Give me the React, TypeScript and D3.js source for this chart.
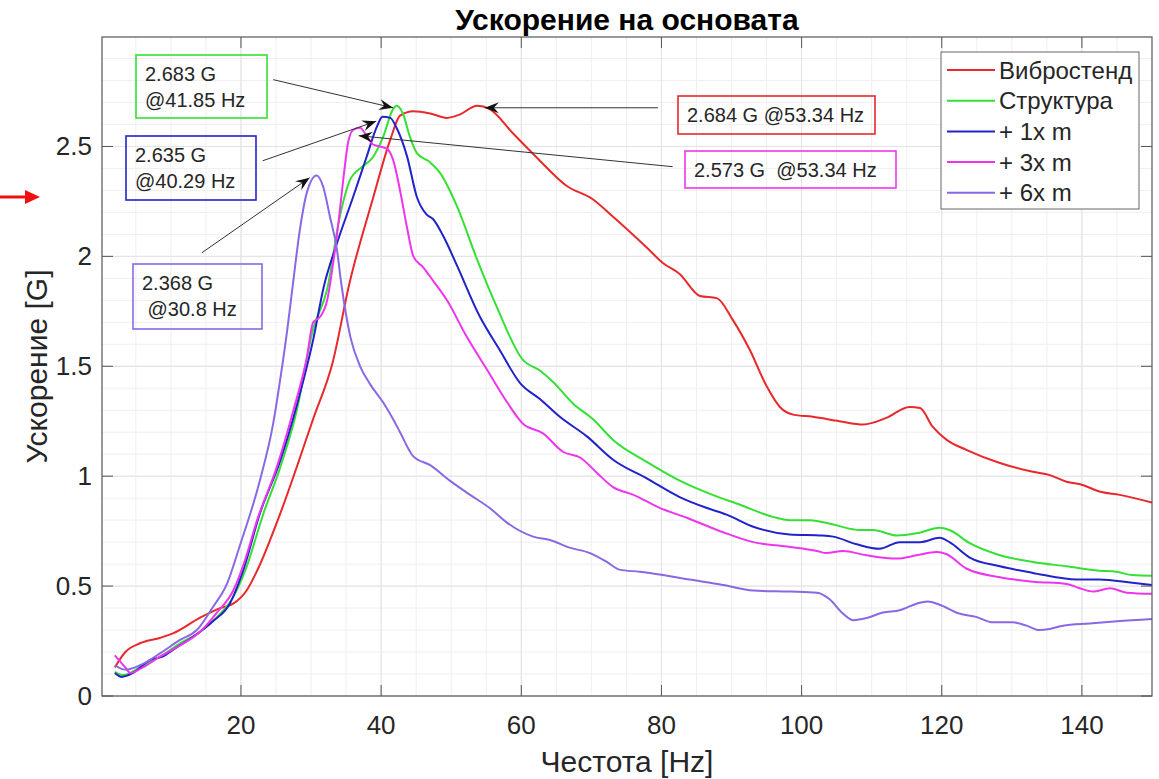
import React from "react";
import * as d3 from "d3";

// series data: [frequency Hz, acceleration G]
const vibrostend: [number, number][] = [
  [2.0, 0.13], [3.5, 0.2], [5.6, 0.24], [8.5, 0.265], [10.3, 0.285], [14.1, 0.355], [17.0, 0.4],
  [18.9, 0.42], [20.8, 0.48], [22.3, 0.57], [25.6, 0.83], [30.3, 1.26], [33.1, 1.52], [35.5, 1.88],
  [38.8, 2.26], [41.3, 2.53], [42.7, 2.64], [44.6, 2.66], [47.0, 2.65], [49.4, 2.63], [51.2, 2.645],
  [53.7, 2.685], [55.5, 2.67], [58.8, 2.56], [62.2, 2.45], [66.5, 2.32], [70.2, 2.26], [73.1, 2.18],
  [77.9, 2.04], [80.2, 1.97], [82.6, 1.92], [85.5, 1.82], [87.9, 1.81], [90.2, 1.71], [92.6, 1.575],
  [95.0, 1.41], [96.9, 1.315], [98.8, 1.28], [101.6, 1.27], [105.4, 1.25], [108.8, 1.235],
  [112.1, 1.265], [115.4, 1.315], [116.9, 1.31], [118.7, 1.225], [120.7, 1.165], [123.5, 1.12],
  [128.3, 1.06], [133.0, 1.02], [135.4, 1.005], [137.8, 0.975], [140.1, 0.96], [142.5, 0.93],
  [145.4, 0.915], [150, 0.88],
];

const struktura: [number, number][] = [
  [2.0, 0.11], [3.2, 0.095], [5.6, 0.13], [8.5, 0.18], [11.3, 0.24], [14.1, 0.29], [16.6, 0.36],
  [18.9, 0.45], [20.6, 0.57], [23.2, 0.83], [25.6, 1.04], [27.9, 1.29], [30.3, 1.67], [32.3, 1.85],
  [34.1, 2.18], [35.6, 2.35], [37.4, 2.41], [38.8, 2.45], [40.3, 2.545], [41.7, 2.67], [42.2, 2.685],
  [43.1, 2.65], [44.1, 2.545], [45.1, 2.47], [46.9, 2.43], [48.4, 2.38], [50.8, 2.23], [53.7, 1.985],
  [56.5, 1.77], [60.2, 1.53], [62.7, 1.48], [64.5, 1.43], [67.4, 1.33], [70.2, 1.26], [73.1, 1.165],
  [77.9, 1.065], [82.6, 0.98], [87.3, 0.915], [91.2, 0.87], [95.9, 0.815], [98.3, 0.8], [101.2, 0.8],
  [104.5, 0.78], [108.3, 0.755], [110.2, 0.755], [113.6, 0.73], [116.4, 0.74], [119.7, 0.765],
  [121.1, 0.755], [124.0, 0.695], [128.3, 0.64], [133.0, 0.61], [137.8, 0.59], [142.5, 0.57],
  [144.9, 0.565], [147.2, 0.55], [150, 0.547],
];

const plus1m: [number, number][] = [
  [2.0, 0.105], [3.0, 0.087], [4.6, 0.105], [7.0, 0.163], [8.9, 0.18], [10.3, 0.21], [13.2, 0.27],
  [16.0, 0.34], [18.4, 0.42], [20.3, 0.57], [22.7, 0.83], [25.6, 1.07], [27.9, 1.315], [30.3, 1.62],
  [31.8, 1.86], [33.7, 2.06], [36.0, 2.27], [37.9, 2.45], [39.4, 2.59], [40.2, 2.635], [41.3, 2.63],
  [42.2, 2.585], [43.7, 2.455], [45.1, 2.27], [46.5, 2.19], [47.4, 2.17], [48.9, 2.09], [50.8, 1.96],
  [54.1, 1.725], [56.9, 1.575], [59.8, 1.425], [62.7, 1.35], [65.5, 1.27], [69.4, 1.18], [73.1, 1.075],
  [77.9, 0.99], [82.6, 0.905], [86.5, 0.855], [89.3, 0.825], [93.1, 0.77], [98.3, 0.735], [103.0, 0.73],
  [104.5, 0.725], [107.9, 0.69], [111.1, 0.67], [114.0, 0.7], [116.9, 0.7], [119.7, 0.72], [121.1, 0.7],
  [124.0, 0.63], [128.3, 0.59], [133.0, 0.56], [139.3, 0.53], [142.5, 0.53], [147.2, 0.515], [150, 0.505],
];

const plus3m: [number, number][] = [
  [2.0, 0.185], [3.5, 0.13], [4.2, 0.105], [6.0, 0.13], [8.5, 0.18], [11.3, 0.23], [14.1, 0.29],
  [16.6, 0.38], [18.9, 0.48], [20.6, 0.62], [22.3, 0.8], [25.1, 1.04], [27.4, 1.29], [29.4, 1.54],
  [30.3, 1.7], [31.3, 1.725], [32.3, 1.8], [33.2, 1.98], [33.9, 2.15], [34.6, 2.35], [35.3, 2.52],
  [36.0, 2.575], [37.0, 2.585], [37.7, 2.56], [38.8, 2.51], [39.8, 2.5], [40.8, 2.49], [41.7, 2.44],
  [42.7, 2.3], [43.7, 2.13], [44.6, 2.0], [46.0, 1.95], [47.4, 1.89], [49.4, 1.8], [52.2, 1.635],
  [55.1, 1.485], [58.0, 1.335], [60.2, 1.24], [63.1, 1.195], [66.0, 1.11], [68.4, 1.085], [70.8, 1.015],
  [73.1, 0.95], [76.0, 0.915], [79.8, 0.855], [83.7, 0.81], [88.8, 0.745], [93.1, 0.7], [97.9, 0.68],
  [102.2, 0.66], [103.5, 0.65], [105.9, 0.66], [109.3, 0.64], [113.6, 0.625], [116.4, 0.64],
  [119.3, 0.655], [120.7, 0.645], [123.5, 0.58], [128.3, 0.54], [133.0, 0.52], [137.8, 0.51],
  [139.7, 0.49], [141.6, 0.475], [144.0, 0.49], [146.4, 0.47], [150, 0.465],
];

const plus6m: [number, number][] = [
  [2.0, 0.14], [3.5, 0.12], [5.6, 0.14], [8.5, 0.195], [11.3, 0.255], [13.7, 0.3], [16.0, 0.405],
  [18.0, 0.51], [19.8, 0.68], [22.7, 0.98], [24.6, 1.24], [25.6, 1.44], [26.6, 1.665], [27.4, 1.87],
  [28.4, 2.12], [29.4, 2.29], [30.8, 2.368], [31.7, 2.32], [32.7, 2.18], [33.7, 2.03], [34.3, 1.88],
  [35.6, 1.635], [37.0, 1.5], [38.4, 1.42], [40.3, 1.335], [41.7, 1.26], [42.7, 1.2], [44.6, 1.09],
  [47.0, 1.05], [49.8, 0.98], [52.7, 0.915], [55.5, 0.855], [57.9, 0.79], [61.7, 0.725], [64.1, 0.71],
  [66.9, 0.675], [69.8, 0.65], [72.2, 0.61], [74.0, 0.575], [76.9, 0.565], [80.2, 0.55], [84.0, 0.53],
  [88.8, 0.505], [93.1, 0.48], [98.3, 0.475], [102.2, 0.47], [104.0, 0.44], [105.9, 0.375],
  [107.4, 0.345], [109.3, 0.355], [111.6, 0.38], [114.0, 0.39], [116.4, 0.42], [118.0, 0.43],
  [119.7, 0.415], [122.5, 0.375], [124.9, 0.36], [127.3, 0.335], [130.1, 0.335], [132.1, 0.32],
  [133.9, 0.3], [135.4, 0.305], [137.3, 0.32], [141.1, 0.33], [145.0, 0.34], [150, 0.35],
];

const seriesNames = ["Вибростенд", "Структура", "+ 1x m", "+ 3x m", "+ 6x m"];
const seriesColors = ["#e8282c", "#35e035", "#2222cc", "#ee35ee", "#8a68e4"];
const seriesData = [vibrostend, struktura, plus1m, plus3m, plus6m];

const xTicks = [20, 40, 60, 80, 100, 120, 140];
const yTicks = [0, 0.5, 1, 1.5, 2, 2.5];
const yTickLabels = ["0", "0.5", "1", "1.5", "2", "2.5"];

// peak annotations: text lines, arrow tail and tip in data units
const annotations = [
  { lines: ["2.683 G", "@41.85 Hz"], color: 1, tail: [24.6, 2.804], tip: [41.7, 2.676], box: [136, 55, 131, 63] },
  { lines: ["2.635 G", "@40.29 Hz"], color: 2, tail: [23.1, 2.435], tip: [39.3, 2.615], box: [126, 136, 130, 64] },
  { lines: ["2.368 G", " @30.8 Hz"], color: 4, tail: [14.4, 2.016], tip: [29.8, 2.358], box: [133, 264, 129, 65] },
  { lines: ["2.684 G @53.34 Hz"], color: 0, tail: [79.5, 2.676], tip: [54.8, 2.676], box: [678, 96, 197, 38] },
  { lines: ["2.573 G  @53.34 Hz"], color: 3, tail: [81.6, 2.408], tip: [36.8, 2.549], box: [685, 151, 211, 37] },
];

const W = 1159;
const H = 779;
const plot = { left: 102, right: 1152, top: 37, bottom: 696 };
const font = "'Liberation Sans', Arial, sans-serif";
const textColor = "#262626";

export default function App() {
  const x = d3.scaleLinear().domain([0.17, 150]).range([plot.left, plot.right]);
  const y = d3.scaleLinear().domain([0, 2.998]).range([plot.bottom, plot.top]);

  const line = d3
    .line<[number, number]>()
    .x((d) => x(d[0]))
    .y((d) => y(d[1]))
    .curve(d3.curveMonotoneX);

  const xMinor = d3.range(5, 150, 5);
  const yMinor = d3.range(1, 30).map((i) => i / 10);

  return (
    <svg
      width={W}
      height={H}
      style={{ position: "absolute", left: 0, top: 0, background: "#fff" }}
      fontFamily={font}
    >
      <defs>
        <marker id="ah" viewBox="-14 -6 16 12" markerWidth={16} markerHeight={12} refX={0} refY={0} orient="auto" markerUnits="userSpaceOnUse">
          <path d="M0,0 L-14,-5.5 L-9,0 L-14,5.5 Z" fill="#111" />
        </marker>
        <clipPath id="clip">
          <rect x={plot.left} y={plot.top} width={plot.right - plot.left} height={plot.bottom - plot.top} />
        </clipPath>
      </defs>

      {/* grid */}
      <g>
        {xMinor.map((v) => (
          <line key={"xm" + v} x1={x(v)} x2={x(v)} y1={plot.top} y2={plot.bottom} stroke="#efefef" strokeWidth={1} />
        ))}
        {yMinor.map((v) => (
          <line key={"ym" + v} x1={plot.left} x2={plot.right} y1={y(v)} y2={y(v)} stroke="#efefef" strokeWidth={1} />
        ))}
        {xTicks.map((v) => (
          <line key={"xg" + v} x1={x(v)} x2={x(v)} y1={plot.top} y2={plot.bottom} stroke="#e2e2e2" strokeWidth={1} />
        ))}
        {yTicks.map((v) => (
          <line key={"yg" + v} x1={plot.left} x2={plot.right} y1={y(v)} y2={y(v)} stroke="#e2e2e2" strokeWidth={1} />
        ))}
      </g>

      {/* series */}
      <g clipPath="url(#clip)">
        {seriesData.map((d, i) => (
          <path key={i} d={line(d) || ""} fill="none" stroke={seriesColors[i]} strokeWidth={2} />
        ))}
      </g>

      {/* axes box and ticks */}
      <rect x={plot.left} y={plot.top} width={plot.right - plot.left} height={plot.bottom - plot.top} fill="none" stroke="#555" strokeWidth={1.2} />
      {xTicks.map((v) => (
        <g key={"xt" + v}>
          <line x1={x(v)} x2={x(v)} y1={plot.bottom} y2={plot.bottom - 11} stroke="#555" />
          <line x1={x(v)} x2={x(v)} y1={plot.top} y2={plot.top + 11} stroke="#555" />
          <text x={x(v)} y={734} textAnchor="middle" fontSize={26} fill={textColor}>
            {v}
          </text>
        </g>
      ))}
      {yTicks.map((v, i) => (
        <g key={"yt" + v}>
          <line x1={plot.left} x2={plot.left + 11} y1={y(v)} y2={y(v)} stroke="#555" />
          <line x1={plot.right} x2={plot.right - 11} y1={y(v)} y2={y(v)} stroke="#555" />
          <text x={92} y={y(v) + 9} textAnchor="end" fontSize={26} fill={textColor}>
            {yTickLabels[i]}
          </text>
        </g>
      ))}

      {/* titles */}
      <text x={(plot.left + plot.right) / 2} y={30} textAnchor="middle" fontSize={30} fontWeight="bold" fill="#000">
        Ускорение на основата
      </text>
      <text x={(plot.left + plot.right) / 2} y={772} textAnchor="middle" fontSize={30} fill={textColor}>
        Честота [Hz]
      </text>
      <text transform={`translate(47, ${(plot.top + plot.bottom) / 2}) rotate(-90)`} textAnchor="middle" fontSize={30} fill={textColor}>
        Ускорение [G]
      </text>

      {/* annotations */}
      {annotations.map((a, i) => (
        <g key={"an" + i}>
          <rect x={a.box[0]} y={a.box[1]} width={a.box[2]} height={a.box[3]} fill="none" stroke={seriesColors[a.color]} strokeWidth={1.6} />
          {a.lines.map((t, j) => (
            <text key={j} x={a.box[0] + 9} y={a.box[1] + 26 + j * 25.5} fontSize={20} fill={textColor} style={{ whiteSpace: "pre" }}>
              {t}
            </text>
          ))}
          <line x1={x(a.tail[0])} y1={y(a.tail[1])} x2={x(a.tip[0])} y2={y(a.tip[1])} stroke="#333" strokeWidth={1} markerEnd="url(#ah)" />
        </g>
      ))}

      {/* legend */}
      <g>
        <rect x={941} y={52} width={198} height={157} fill="#fff" stroke="#666" strokeWidth={1} />
        {seriesNames.map((n, i) => (
          <g key={n}>
            <line x1={947} x2={995} y1={70 + i * 30.7} y2={70 + i * 30.7} stroke={seriesColors[i]} strokeWidth={2} />
            <text x={999} y={70 + i * 30.7 + 8.5} fontSize={24} fill={textColor}>
              {n}
            </text>
          </g>
        ))}
      </g>

      {/* red marker arrow at left edge */}
      <line x1={0} y1={197} x2={27} y2={197} stroke="#ee1111" strokeWidth={3} />
      <path d="M25,190 L40,197 L25,204 Z" fill="#ee1111" />
    </svg>
  );
}
